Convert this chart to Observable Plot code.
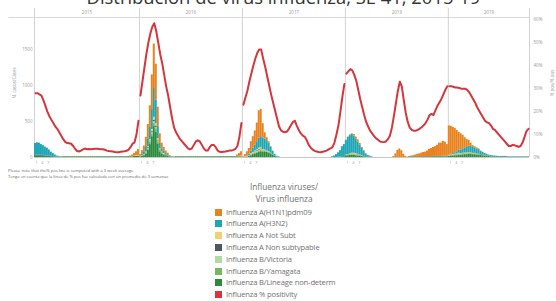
<!DOCTYPE html>
<html><head><meta charset="utf-8">
<script src="https://cdn.jsdelivr.net/npm/d3@7"></script>
<script src="https://cdn.jsdelivr.net/npm/@observablehq/plot@0.6"></script>
<style>
html,body{margin:0;padding:0;background:#fff;}
#wrap{position:relative;width:556px;height:301px;overflow:hidden;font-family:"Open Sans",sans-serif;}
#title{position:absolute;left:0;width:567px;text-align:center;top:-14px;font-size:18.4px;line-height:22px;color:#333;white-space:nowrap;}
#chart{position:absolute;left:0;top:0;}
.note{position:absolute;left:8px;font-size:4.1px;line-height:5px;color:#666;white-space:nowrap;}
#legend{position:absolute;left:0;top:0;width:556px;height:301px;font-family:"Open Sans",sans-serif;color:#707070;}
.lt{position:absolute;width:556px;left:6px;text-align:center;line-height:10px;font-size:8.3px;}
.li{position:absolute;left:215px;line-height:8px;white-space:nowrap;font-size:7.6px;letter-spacing:-0.15px;}
.sw{display:inline-block;width:7px;height:7px;vertical-align:-1px;margin-right:4px;}
</style></head><body><div id="wrap">
<div id="chart"></div>
<div id="title"></div>
<div class="note" id="note1" style="top:167.5px"></div>
<div class="note" id="note2" style="top:173.5px"></div>
<div id="legend"></div>
</div>
<script>
const z = n => new Array(n).fill(0);

const titleText = "Distribución de virus influenza, SE 41, 2015-19";
const notes = ["Please note that the% pos line is computed with a 3 week average",
  "Tenga en cuenta que la línea de % pos fue calculada con un promedio de 3 semanas"];
const years = ["2015", "2016", "2017", "2018", "2019"];
const weeksPerYear = [53, 52, 52, 52, 41];
const leftTicks = [0, 500, 1000, 1500];
const pctTicks = [0, 10, 20, 30, 40, 50, 60];
const weekTickOffsets = [1, 4, 7];
const weekTickLabels = ["1", "4", "7"];
const leftTitle = "N. casos/Cases";
const rightTitle = "% pos/% pos";
const legendTitle = ["Influenza viruses/", "Virus influenza"];

const legendNames = ["Influenza A(H1N1)pdm09", "Influenza A(H3N2)", "Influenza A Not Subt",
  "Influenza A Non subtypable", "Influenza B/Victoria", "Influenza B/Yamagata",
  "Influenza B/Lineage non-determ", "Influenza % positivity"];
const legendColors = ["#e8821e", "#1fa6b6", "#f2cf73", "#4d5863", "#b3d9a3", "#74b95a", "#2c8a3c", "#d6353b"];

// weekly case counts, one array per virus (2015 | 2016 | 2017 | 2018 | 2019)
const h1n1 = [
  ...z(47), 5, 10, 20, 35, 55, 80,
  20, 50, 80, 130, 200, 300, 480, 620, 500, 260, 130, 80, 55, 35, 20, 10, 5, 0, ...z(31), 20, 40, 60,
  8, 30, 60, 80, 130, 160, 200, 260, 380, 380, 200, 90, 40, 20, 10, 5, ...z(36),
  5, 5, 10, 10, 20, 30, 30, 20, 15, 10, 5, 0, 0, 0, ...z(10), 15, 50, 100, 120, 95, 45, 15, 5,
  5, 10, 15, 25, 35, 40, 50, 60, 65, 80, 105, 115, 125, 135, 155, 185, 185, 205, 195, 160,
  405, 390, 365, 340, 295, 250, 225, 190, 140, 110, 85, 45, 25, 15, 15, 5, 5, 5, ...z(23)
];
const h3n2 = [
  165, 170, 165, 150, 135, 125, 110, 85, 60, 40, 25, 15, 10, 5, ...z(39),
  5, 20, 40, 70, 110, 170, 280, 400, 330, 180, 80, 45, 30, 20, 15, 5, 5, 3, ...z(34),
  0, 5, 10, 20, 35, 60, 80, 110, 140, 150, 160, 150, 140, 120, 80, 50, 25, 10, 5, ...z(26), 10, 20, 40, 60, 90, 140, 170,
  200, 240, 250, 260, 240, 200, 170, 140, 100, 70, 40, 25, 15, 5, ...z(30), 5, 5, 5, 5, 5, 10, 10, 10,
  5, 10, 15, 20, 30, 40, 50, 60, 70, 75, 85, 85, 80, 75, 65, 60, 45, 35, 25, 20,
  15, 13, 10, 10, 8, 5, 5, 5, 5, 5, 5, 5, 5, 5, 5, 5, 5, 5, 5, 5, 5
];
const notSubt = [
  ...z(49), 5, 5, 10, 10,
  5, 5, 5, 5, 10, 20, 30, 40, 30, 20, 10, 5, 5, ...z(36), 5, 5, 10,
  2, 5, 5, 5, 10, 10, 10, 15, 20, 20, 10, 10, 5, 5, 5, ...z(37),
  5, 5, 5, 10, 10, 10, 5, 5, 5, ...z(43),
  10, 10, 10, 10, 10, 10, 5, 5, 5, 5, 5, 5, ...z(29)
];
const nonSub = [
  10, 10, 10, 10, 10, 5, 5, 5, 5, 5, ...z(43),
  0, 0, 0, 5, 10, 10, 15, 20, 20, 10, 5, 5, ...z(40),
  0, 0, 0, 0, 5, 5, 5, 10, 10, 10, 5, 5, 5, ...z(39),
  5, 5, 5, 5, 5, 5, 5, 5, ...z(44),
  5, 5, 5, 5, 5, 5, 5, 5, 5, 5, 5, 5, 5, 5, 5, 5, 5, 5, 5, 5, ...z(21)
];
const victoria = [
  ...z(53),
  0, 0, 0, 5, 10, 10, 15, 20, 20, 10, 5, 5, 5, ...z(39),
  0, 0, 0, 0, 5, 5, 10, 10, 10, 10, 10, 5, 5, 5, ...z(38),
  0, 0, 5, 5, 5, 5, 5, ...z(45),
  0, 0, 0, 0, 5, 5, 5, 5, 5, 5, 5, 5, 5, 5, 5, 5, ...z(25)
];
const yamagata = [
  ...z(53),
  0, 5, 10, 15, 20, 30, 40, 50, 50, 30, 20, 10, 10, 10, 5, 5, ...z(36),
  0, 0, 5, 5, 10, 10, 15, 15, 20, 20, 15, 15, 10, 10, 5, 5, ...z(36),
  5, 5, 10, 10, 10, 10, 10, 5, 5, 5, ...z(42),
  0, 0, 5, 5, 5, 10, 10, 10, 10, 10, 10, 10, 10, 10, 10, 10, 5, 5, 5, 5, 5, 5, 5, ...z(18)
];
const bLineage = [
  20, 25, 25, 20, 20, 15, 15, 15, 10, 10, 10, 5, 5, 5,
  10, 10, 10, 10, 10, 10, 10, 10, 10, 10, 10, 10, 10, 10, 10, 10, 10, 10, 10, 10,
  10, 10, 10, 10, 10, 10, 10, 10, 10, 10, 10, 10, 10, 10, 10, 10, 15, 15, 20,
  10, 15, 25, 50, 100, 180, 290, 430, 350, 190, 80, 50, 35, 25, 20, 10, 5, 5,
  10, 10, 10, 10, 10, 10, 10, 10, 10, 10, 10, 10, 10, 10, 10, 10, 10,
  10, 10, 10, 10, 10, 10, 10, 10, 10, 10, 10, 10, 10, 10, 10, 10, 10,
  0, 0, 0, 15, 25, 40, 50, 60, 70, 80, 70, 70, 70, 60, 50, 30, 20, 8, 5, ...z(26), 0, 0, 0, 5, 5, 10, 10,
  20, 25, 30, 30, 30, 25, 20, 20, 15, 10, 10, 5, 5, 5, ...z(18),
  10, 10, 10, 10, 10, 10, 10, 10, 10, 10, 10, 10, 10, 10, 10, 10, 10, 10, 10, 10,
  15, 20, 20, 25, 25, 30, 30, 35, 40, 40, 45, 45, 40, 40, 35, 35, 30, 25, 20, 15,
  15, 10, 10, 10, 10, 10, 10, 10, 10, 10, 5, 5, 5, 5, 5, 5, 5, 5, 5, 5, 5
];

// % positivity (3-week average), one array per year
const pct2015 = [28, 28, 27.5, 27, 25, 22.5, 20, 18, 16.5, 15, 13.5, 12.5, 11, 9.5, 8, 6.8, 6.3, 6.2, 6, 5,
  3.8, 2.8, 2.6, 3, 3.5, 3.9, 3.6, 3.7, 3.6, 3.7, 3.8, 3.8, 3.7, 3.6, 3.6, 3.4, 3, 2.8, 2.7, 2.6,
  2.4, 2.3, 2.3, 2.5, 2.6, 2.7, 2.9, 3.4, 4.5, 6, 6.5, 10, 16];
const pct2016 = [27, 33, 39, 45, 50, 54, 57, 58.5, 55, 50, 45, 41, 36, 31, 27, 22, 17, 13, 11, 9.5,
  8, 7, 6, 5, 4, 3.5, 4, 5.5, 7, 7.5, 7, 5.5, 4, 3, 3, 4.5, 5.5, 5.5, 4.5, 3,
  2.5, 2.4, 2.5, 2.6, 2.8, 3, 3, 3.3, 3.8, 5, 9, 15];
const pct2017 = [23, 26, 29, 33, 36.5, 40, 43, 45.5, 47, 47, 43, 39.5, 35.5, 31.5, 27.5, 24, 20.5, 17, 13.5, 11.8,
  11.2, 11, 11.3, 12.5, 14, 15.5, 16, 13.8, 12, 10.5, 9.5, 9, 7.5, 5.5, 4.3, 3.4, 2.9, 2.6, 2.4, 2.3,
  2.5, 2.7, 3, 3.5, 4, 4.5, 6.5, 10, 14, 20, 26.5, 32];
const pct2018 = [36.5, 37.5, 38.5, 38, 36, 33.5, 29.5, 25.5, 22, 18.5, 15.5, 13.5, 11.7, 10.5, 9.3, 8.4, 7.7, 7, 6.8, 6.7,
  7, 8, 9.5, 13, 18, 23.5, 29, 33, 31, 25, 19.5, 15.5, 13, 12, 11.7, 11.7, 12, 12.5, 13.2, 14,
  15, 16.5, 18.5, 19, 18.5, 20.5, 22.5, 24, 25.5, 27.5, 29.5, 31];
const pct2019 = [31, 31, 30.8, 30.5, 30.5, 30.3, 30, 30, 30, 29.5, 28.5, 27, 25.5, 24, 22, 20.5, 19, 17.5, 16, 15.3,
  15, 14, 12.5, 12, 11, 10, 9, 8, 7, 6, 5, 5, 5.5, 5.3, 5, 4.6, 5, 6.5, 9, 11.5, 12.5];

// ---------- build tables ----------
const pctByYear = [pct2015, pct2016, pct2017, pct2018, pct2019];
const yearStarts = [0, ...d3.cumsum(weeksPerYear)];
const nWeeks = yearStarts[yearStarts.length - 1];
const stackBottomFirst = [
  [legendNames[6], bLineage], [legendNames[5], yamagata], [legendNames[4], victoria],
  [legendNames[3], nonSub], [legendNames[2], notSubt], [legendNames[1], h3n2], [legendNames[0], h1n1]
];
const barData = [];
for (const [s, arr] of stackBottomFirst) arr.forEach((v, i) => { if (v > 0) barData.push({i, v, s}); });
const pctData = [];
pctByYear.forEach((arr, yi) => arr.forEach((p, w) => pctData.push({year: years[yi], i: yearStarts[yi] + w, p})));
const yearMids = years.map((y, yi) => ({y, m: (yearStarts[yi] + yearStarts[yi + 1]) / 2}));
const weekTicks = [];
yearStarts.slice(0, -1).forEach(s => weekTickOffsets.forEach((o, j) => weekTicks.push({i: s + o, t: weekTickLabels[j]})));

const yTop = 2075, headerLevel = 1950, pctMax = 61;
const k = headerLevel / pctMax; // cases per % point (dual axis)
const gray = "#999";

const chart = Plot.plot({
  width: 556, height: 168,
  marginLeft: 34, marginRight: 27, marginTop: 8, marginBottom: 11,
  x: {domain: [0, nWeeks], axis: null},
  y: {domain: [0, yTop], axis: null},
  color: {domain: legendNames, range: legendColors},
  style: {fontFamily: "Open Sans, sans-serif", background: "#fff", overflow: "visible"},
  marks: [
    Plot.ruleY([headerLevel], {x1: -13, x2: nWeeks, stroke: "#d8d8d8", strokeWidth: 1}),
    Plot.ruleX(yearStarts, {y1: 0, y2: yTop, stroke: "#d2d2d2", strokeWidth: 1}),
    Plot.text(yearMids, {x: "m", y: (headerLevel + yTop) / 2, text: "y", fontSize: 4.5, fill: gray}),
    Plot.rectY(barData, {x1: "i", x2: d => d.i + 1, y: "v", fill: "s"}),
    Plot.ruleY([0], {stroke: "#c8c8c8"}),
    Plot.line(pctData, {x: d => d.i + 0.5, y: d => d.p * k, z: "year", stroke: legendColors[7], strokeWidth: 2, curve: "linear"}),
    Plot.axisY(leftTicks, {anchor: "left", tickSize: 0, tickPadding: 2, fontSize: 4.5, fill: gray,
      tickFormat: d => String(d),
      label: leftTitle, labelAnchor: "center", labelOffset: 22, labelArrow: false}),
    Plot.axisY(pctTicks.map(p => p * k), {anchor: "right", tickSize: 0, tickPadding: 4, fontSize: 4.5, fill: gray,
      tickFormat: v => Math.round(v / k) + "%", label: rightTitle, labelAnchor: "center", labelOffset: 24, labelArrow: false}),
    Plot.text(weekTicks, {x: "i", y: 0, text: "t", dy: 5, fontSize: 3.8, fill: gray})
  ]
});
document.getElementById("chart").appendChild(chart);

document.getElementById("title").textContent = titleText;
document.getElementById("note1").textContent = notes[0];
document.getElementById("note2").textContent = notes[1];

const lg = document.getElementById("legend");
legendTitle.forEach((t, j) => {
  const d = document.createElement("div");
  d.className = "lt"; d.style.top = (182 + j * 11.5) + "px"; d.textContent = t; lg.appendChild(d);
});
legendNames.forEach((n, j) => {
  const d = document.createElement("div");
  d.className = "li"; d.style.top = (207.5 + j * 11.8) + "px";
  const sw = document.createElement("span"); sw.className = "sw"; sw.style.background = legendColors[j];
  d.appendChild(sw); d.appendChild(document.createTextNode(n)); lg.appendChild(d);
});
</script>
</body></html>
